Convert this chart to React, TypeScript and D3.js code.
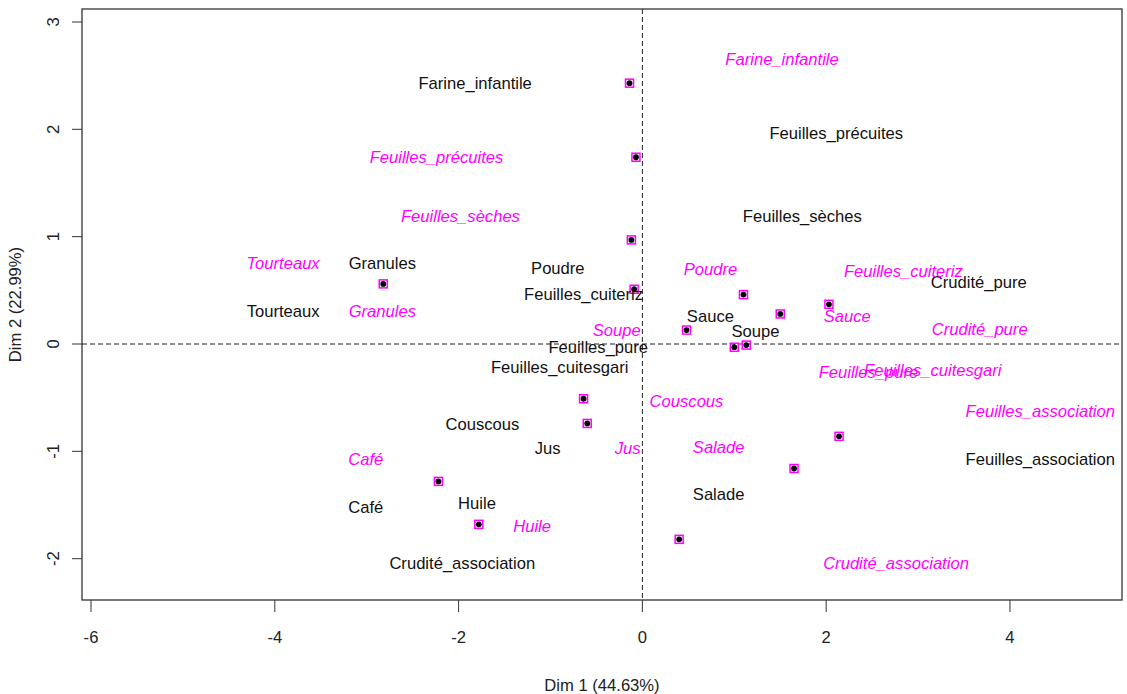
import React, { useEffect, useRef } from 'react';
import * as d3 from 'd3';

// point coordinates (Dim 1, Dim 2)
const pointX = [-0.14, -0.07, -0.12, -0.09, -2.82, 1.10, 1.50, 2.03, 0.48, 1.00, 1.13, -0.64, -0.60, 2.14, 1.65, -2.22, -1.78, 0.40];
const pointY = [2.43, 1.74, 0.97, 0.51, 0.56, 0.46, 0.28, 0.37, 0.13, -0.03, -0.01, -0.51, -0.74, -0.86, -1.16, -1.28, -1.68, -1.82];

// black labels
const blackNames = ['Farine_infantile', 'Feuilles_précuites', 'Feuilles_sèches', 'Granules', 'Tourteaux', 'Poudre', 'Feuilles_cuiteriz', 'Crudité_pure', 'Sauce', 'Soupe', 'Feuilles_pure', 'Feuilles_cuitesgari', 'Couscous', 'Jus', 'Café', 'Huile', 'Crudité_association', 'Salade', 'Feuilles_association'];
const blackX = [-1.82, 2.11, 1.74, -2.83, -3.91, -0.92, -0.64, 3.66, 0.74, 1.23, -0.48, -0.90, -1.74, -1.03, -3.01, -1.80, -1.96, 0.83, 4.33];
const blackY = [2.43, 1.96, 1.19, 0.75, 0.31, 0.71, 0.46, 0.58, 0.26, 0.12, -0.03, -0.22, -0.75, -0.97, -1.52, -1.48, -2.04, -1.40, -1.07];

// magenta (italic) labels
const pinkNames = ['Farine_infantile', 'Feuilles_précuites', 'Feuilles_sèches', 'Tourteaux', 'Granules', 'Poudre', 'Feuilles_cuiteriz', 'Sauce', 'Crudité_pure', 'Soupe', 'Feuilles_pure', 'Feuilles_cuitesgari', 'Couscous', 'Jus', 'Salade', 'Café', 'Huile', 'Feuilles_association', 'Crudité_association'];
const pinkX = [1.52, -2.24, -1.98, -3.91, -2.83, 0.74, 2.84, 2.23, 3.67, -0.28, 2.46, 3.16, 0.48, -0.16, 0.83, -3.01, -1.20, 4.33, 2.76];
const pinkY = [2.65, 1.74, 1.19, 0.75, 0.31, 0.70, 0.68, 0.26, 0.14, 0.13, -0.26, -0.24, -0.53, -0.97, -0.96, -1.07, -1.70, -0.63, -2.04];

const xTicks = [-6, -4, -2, 0, 2, 4];
const yTicks = [-2, -1, 0, 1, 2, 3];

const App = () => {
  const svgRef = useRef<SVGSVGElement>(null);

  useEffect(() => {
    const svg = d3.select(svgRef.current);
    svg.selectAll('*').remove();

    const width = 1127;
    const height = 694;
    const box = { left: 82, right: 1122, top: 9, bottom: 600 };
    const font = '"Liberation Sans", Arial, sans-serif';
    const fs = '16.6px';
    const pink = '#ff00ff';

    const x = d3.scaleLinear().domain([-6.098, 5.219]).range([box.left, box.right]);
    const y = d3.scaleLinear().domain([-2.385, 3.121]).range([box.bottom, box.top]);

    svg.attr('width', width).attr('height', height);

    // zero lines
    svg.append('line')
      .attr('x1', x(0)).attr('x2', x(0))
      .attr('y1', box.top).attr('y2', box.bottom)
      .attr('stroke', '#222').attr('stroke-dasharray', '5,3');
    svg.append('line')
      .attr('x1', box.left).attr('x2', box.right)
      .attr('y1', y(0)).attr('y2', y(0))
      .attr('stroke', '#222').attr('stroke-dasharray', '5,3');

    // box
    svg.append('rect')
      .attr('x', box.left).attr('y', box.top)
      .attr('width', box.right - box.left).attr('height', box.bottom - box.top)
      .attr('fill', 'none').attr('stroke', '#333').attr('stroke-width', 1.3);

    // x axis
    const xAxis = svg.append('g');
    xAxis.selectAll('line').data(xTicks).enter().append('line')
      .attr('x1', d => x(d)).attr('x2', d => x(d))
      .attr('y1', box.bottom).attr('y2', box.bottom + 12)
      .attr('stroke', '#333');
    xAxis.selectAll('text').data(xTicks).enter().append('text')
      .attr('x', d => x(d)).attr('y', 637)
      .attr('text-anchor', 'middle').attr('dy', '0.35em')
      .style('font-family', font).style('font-size', fs).attr('fill', '#222')
      .text(d => d);

    // y axis
    const yAxis = svg.append('g');
    yAxis.selectAll('line').data(yTicks).enter().append('line')
      .attr('x1', box.left - 10).attr('x2', box.left)
      .attr('y1', d => y(d)).attr('y2', d => y(d))
      .attr('stroke', '#333');
    yAxis.selectAll('text').data(yTicks).enter().append('text')
      .attr('transform', d => `translate(53,${y(d)}) rotate(-90)`)
      .attr('text-anchor', 'middle').attr('dy', '0.35em')
      .style('font-family', font).style('font-size', fs).attr('fill', '#222')
      .text(d => d);

    // axis titles
    svg.append('text')
      .attr('x', (box.left + box.right) / 2).attr('y', 685)
      .attr('text-anchor', 'middle').attr('dy', '0.35em')
      .style('font-family', font).style('font-size', fs).attr('fill', '#222')
      .text('Dim 1 (44.63%)');
    svg.append('text')
      .attr('transform', `translate(15,${(box.top + box.bottom) / 2}) rotate(-90)`)
      .attr('text-anchor', 'middle').attr('dy', '0.35em')
      .style('font-family', font).style('font-size', fs).attr('fill', '#222')
      .text('Dim 2 (22.99%)');

    // points
    const pts = pointX.map((v, i) => ({ x: v, y: pointY[i] }));
    svg.selectAll('.sq').data(pts).enter().append('rect')
      .attr('class', 'sq')
      .attr('x', d => x(d.x) - 4).attr('y', d => y(d.y) - 4)
      .attr('width', 8).attr('height', 8)
      .attr('fill', 'none').attr('stroke', pink).attr('stroke-width', 1.5);
    svg.selectAll('.dot').data(pts).enter().append('circle')
      .attr('class', 'dot')
      .attr('cx', d => x(d.x)).attr('cy', d => y(d.y))
      .attr('r', 2.9).attr('fill', '#000');

    // black labels
    const bl = blackNames.map((n, i) => ({ n, x: blackX[i], y: blackY[i] }));
    svg.selectAll('.bl').data(bl).enter().append('text')
      .attr('class', 'bl')
      .attr('x', d => x(d.x)).attr('y', d => y(d.y))
      .attr('text-anchor', 'middle').attr('dy', '0.35em')
      .style('font-family', font).style('font-size', fs).attr('fill', '#111')
      .text(d => d.n);

    // magenta labels
    const pl = pinkNames.map((n, i) => ({ n, x: pinkX[i], y: pinkY[i] }));
    svg.selectAll('.pl').data(pl).enter().append('text')
      .attr('class', 'pl')
      .attr('x', d => x(d.x)).attr('y', d => y(d.y))
      .attr('text-anchor', 'middle').attr('dy', '0.35em')
      .style('font-family', font).style('font-size', fs).style('font-style', 'italic')
      .attr('fill', pink)
      .text(d => d.n);
  }, []);

  return (
    <div style={{ position: 'absolute', left: 0, top: 0 }}>
      <svg ref={svgRef} style={{ display: 'block', background: '#fff' }}></svg>
    </div>
  );
};

export default App;
